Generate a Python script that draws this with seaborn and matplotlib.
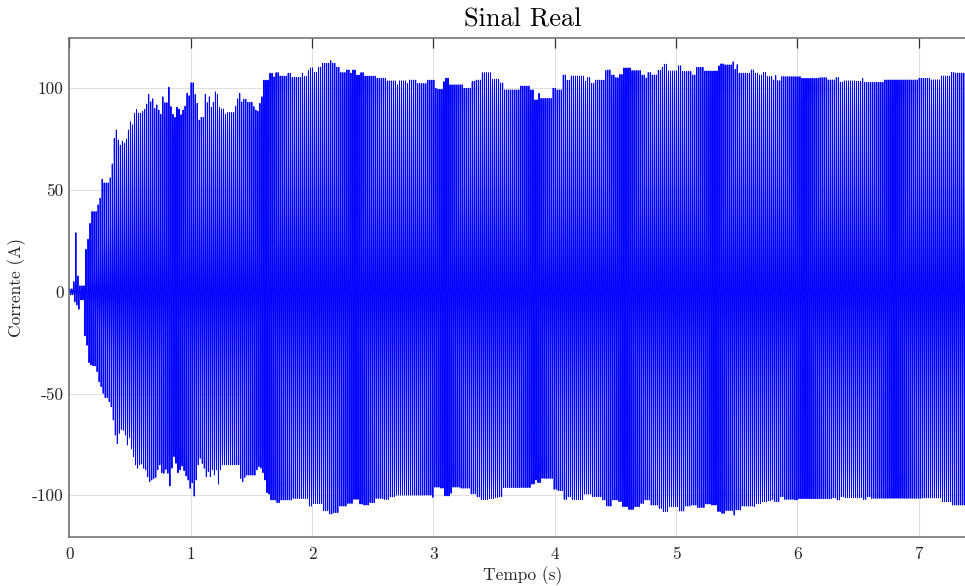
import numpy as np
import pandas as pd
import matplotlib
matplotlib.use("Agg")
import matplotlib.pyplot as plt
import seaborn as sns

# Positive-peak envelope of the measured current: (time in s, peak in A)
hi_t = [0.0, 0.03, 0.048, 0.062, 0.08, 0.125, 0.142, 0.158, 0.175, 0.225, 0.24, 0.258,
        0.275, 0.33, 0.345, 0.362, 0.38, 0.395, 0.412, 0.43, 0.447, 0.462, 0.478, 0.495,
        0.512, 0.528, 0.545, 0.562, 0.595, 0.612, 0.628, 0.645, 0.662, 0.678, 0.695,
        0.712, 0.728, 0.745, 0.762, 0.778, 0.81, 0.826, 0.842, 0.858, 0.875, 0.892,
        0.908, 0.925, 0.942, 0.958, 0.975, 0.99, 1.025, 1.04, 1.057, 1.073, 1.106,
        1.123, 1.14, 1.156, 1.173, 1.19, 1.206, 1.223, 1.24, 1.272, 1.288, 1.37, 1.387,
        1.403, 1.42, 1.436, 1.47, 1.52, 1.536, 1.552, 1.569, 1.585, 1.602, 1.648, 1.676,
        1.703, 1.73, 1.8, 1.828, 1.91, 1.937, 1.965, 1.98, 2.005, 2.046, 2.074, 2.142,
        2.17, 2.198, 2.225, 2.28, 2.308, 2.335, 2.362, 2.39, 2.435, 2.528, 2.61, 2.692,
        2.72, 2.775, 2.802, 2.87, 2.953, 3.008, 3.036, 3.077, 3.104, 3.132, 3.24, 3.31,
        3.35, 3.392, 3.475, 3.544, 3.585, 3.708, 3.795, 3.832, 3.86, 3.887, 3.983, 4.01,
        4.065, 4.093, 4.134, 4.245, 4.258, 4.3, 4.326, 4.41, 4.436, 4.465, 4.49, 4.532,
        4.56, 4.63, 4.71, 4.74, 4.766, 4.794, 4.85, 4.876, 4.903, 4.93, 5.014, 5.04,
        5.137, 5.165, 5.233, 5.343, 5.37, 5.398, 5.467, 5.48, 5.494, 5.508, 5.618, 5.645,
        5.673, 5.714, 5.741, 5.796, 5.81, 5.837, 5.865, 6.03, 6.18, 6.25, 6.318, 6.346,
        6.373, 6.483, 6.524, 6.552, 6.717, 6.99, 7.1, 7.184, 7.266, 7.295]
hi_v = [1.5, 5, 29, 7.8, 3, 20.9, 25.8, 33.6, 39.4, 42.7, 46, 55.3,
        53.5, 56, 62.8, 75.3, 79.5, 74.5, 72, 74, 73, 75, 79.5, 83.5,
        82, 87.7, 89.6, 87.7, 88.5, 89.6, 92.2, 97, 93.3, 94.8, 90,
        91.8, 89.3, 87.2, 95.8, 92.9, 100.5, 91, 87.2, 85.7, 90.7, 89.8,
        87, 89.3, 91.2, 97.5, 96.3, 102.7, 96.9, 92.6, 84.4, 85.7, 97,
        92.9, 95.8, 90.5, 93.2, 98.2, 97, 90.5, 89.8, 87.2, 88, 91.2, 94.8,
        97.5, 93.3, 94.6, 93.1, 91, 89.3, 88.7, 92.6, 95.8, 104, 107.4, 105.6,
        107.7, 106, 107.4, 105.3, 107.4, 105.8, 108.7, 110, 107.7, 110.3, 112.3, 113.6,
        112.3, 110.3, 107.7, 109, 107.4, 109, 106.5, 107.7, 106, 104.9, 103.6, 101.7,
        103.6, 102.3, 104, 102.3, 104, 100, 99.5, 103.3, 105, 101.7, 100, 103.3,
        104, 107.6, 104.4, 102.6, 99.2, 101.1, 99.2, 94.3, 97.5, 95, 100, 99.2,
        106.5, 104, 106, 103.3, 105.2, 102.4, 104, 108.7, 109, 106.5, 105.2, 106.8,
        110, 108.7, 106.5, 105, 107.7, 106.5, 108.7, 110.3, 111.8, 108.5, 111, 108.2,
        106.5, 110.3, 108.5, 111, 112, 111.5, 113, 109.3, 111.6, 107.4, 109, 107.4,
        106.5, 107.7, 105.7, 104, 106.2, 103.7, 105.7, 104.9, 105.2, 104.1, 105.2, 103,
        103.6, 103.3, 104.9, 102.9, 104.1, 104.9, 104.1, 106, 107.7, 107.4]

# Negative-peak envelope of the measured current: (time in s, trough in A)
lo_t = [0.0, 0.032, 0.05, 0.065, 0.082, 0.126, 0.142, 0.16, 0.175, 0.192, 0.225, 0.242,
        0.258, 0.275, 0.295, 0.325, 0.343, 0.358, 0.374, 0.39, 0.407, 0.423, 0.44, 0.456,
        0.473, 0.49, 0.506, 0.522, 0.538, 0.555, 0.572, 0.588, 0.605, 0.62, 0.638, 0.654,
        0.67, 0.687, 0.703, 0.72, 0.736, 0.753, 0.77, 0.786, 0.802, 0.825, 0.84, 0.857,
        0.874, 0.89, 0.907, 0.923, 0.94, 0.956, 0.973, 0.99, 1.006, 1.022, 1.038, 1.055,
        1.072, 1.088, 1.105, 1.12, 1.137, 1.154, 1.17, 1.187, 1.203, 1.22, 1.236, 1.252,
        1.4, 1.418, 1.435, 1.45, 1.532, 1.55, 1.566, 1.582, 1.598, 1.615, 1.632, 1.648,
        1.7, 1.732, 1.84, 1.978, 2.005, 2.088, 2.142, 2.17, 2.225, 2.28, 2.335, 2.39,
        2.418, 2.472, 2.528, 2.582, 2.637, 2.692, 2.98, 3.008, 3.05, 3.09, 3.132, 3.16,
        3.215, 3.31, 3.35, 3.392, 3.46, 3.503, 3.544, 3.572, 3.805, 3.832, 3.86, 3.887,
        3.995, 4.025, 4.065, 4.105, 4.134, 4.245, 4.3, 4.395, 4.425, 4.465, 4.52, 4.546,
        4.6, 4.656, 4.71, 4.74, 4.78, 4.85, 4.89, 4.93, 5.027, 5.07, 5.125, 5.178,
        5.233, 5.288, 5.343, 5.37, 5.412, 5.467, 5.494, 5.535, 5.63, 5.66, 5.7, 5.755,
        5.782, 5.81, 5.851, 5.892, 5.975, 6.002, 6.295, 6.325, 6.346, 6.385, 6.538, 6.565,
        6.607, 7.02, 7.184, 7.266]
lo_v = [-1.5, -4.9, -6.5, -8.6, -4, -21.7, -26.3, -34.8, -35.9, -36.4, -39.2, -44.2,
        -46.6, -49.9, -52, -54, -56.5, -63, -70.4, -74.6, -69.5, -67.6, -68, -70.4,
        -75.3, -71.5, -77, -81, -85, -86.7, -85, -84.6, -86.7, -87.5, -90.9, -93.3,
        -92.5, -91.7, -91.2, -87.5, -85, -88.9, -89.2, -87.3, -89.2, -95.4, -86.7, -81,
        -84.3, -88.9, -87.5, -85.6, -87.9, -90.5, -92.5, -96.6, -93.8, -100.4, -92.5, -85,
        -81.8, -84.3, -86.7, -90.9, -88.4, -90.9, -87.5, -90, -87.5, -94.5, -87.5, -85,
        -91.7, -93.3, -91.2, -90.1, -87.5, -85.9, -86.7, -88.9, -92.5, -98.7, -99.4, -102.3,
        -103.6, -102.3, -101.5, -105.3, -104, -107.5, -109.2, -108.5, -105.3, -104, -102, -104.3,
        -104.8, -103.6, -101.5, -102, -100.7, -99.9, -101, -96, -96.5, -100.3, -99, -96,
        -96.5, -99.3, -100.7, -102, -101.5, -101, -100.7, -96.2, -94.5, -92.5, -93.8, -91.7,
        -97, -97.7, -102, -100.7, -102, -99.4, -100.7, -102.3, -105.3, -102.3, -103.1, -105.6,
        -107, -105.6, -104, -102.3, -104.8, -106.4, -108, -105.6, -107.7, -105.3, -104.8, -106,
        -104.3, -104.8, -108, -108.9, -107.5, -109.7, -107.2, -105.3, -105.6, -104, -103.1, -102.6,
        -102, -103.1, -100.7, -102, -102.3, -101.7, -101.3, -102.3, -100.7, -101.2, -102, -100.7,
        -101.5, -101.3, -103.1, -104.8]

x_ticks = [0, 1, 2, 3, 4, 5, 6, 7]
y_ticks = [-100, -50, 0, 50, 100]
y_tick_labels = ["-100", "-50", "0", "50", "100"]

line_freq = 60.0      # Hz
t_end = 7.5           # s
fs = line_freq * 48   # samples per second

# Build the waveform cycle by cycle: each half-cycle takes the envelope
# value held at its peak instant.
t = np.arange(0.0, t_end, 1.0 / fs)
cycle = np.floor(t * line_freq)
hi_idx = np.searchsorted(hi_t, (cycle + 0.25) / line_freq, side="right") - 1
lo_idx = np.searchsorted(lo_t, (cycle + 0.75) / line_freq, side="right") - 1
amp_hi = np.asarray(hi_v)[hi_idx]
amp_lo = -np.asarray(lo_v)[lo_idx]
carrier = np.sin(2 * np.pi * line_freq * t)
current = np.where(carrier >= 0, carrier * amp_hi, carrier * amp_lo)
df = pd.DataFrame({"Tempo": t, "Corrente": current})

sns.set_theme(style="white")
plt.rcParams.update({
    "font.family": ["cmr10", "DejaVu Serif"],
    "mathtext.fontset": "cm",
    "axes.unicode_minus": False,
    "axes.formatter.use_mathtext": True,
})

fig = plt.figure(figsize=(9.65, 5.86), dpi=100)
ax = fig.add_axes([69.3 / 965, 1 - 537 / 586, (977 - 69.3) / 965, 499 / 586])

sns.lineplot(data=df, x="Tempo", y="Corrente", ax=ax, color="#0000ff",
             linewidth=0.7, estimator=None, sort=False, legend=False)

ax.set_xlim(0, 7.48)
ax.set_ylim(-120.5, 124.7)
ax.set_xticks(x_ticks)
ax.set_xticklabels([str(v) for v in x_ticks])
ax.set_yticks(y_ticks)
ax.set_yticklabels(y_tick_labels)

ax.set_axisbelow(True)
ax.grid(True, color="#e0e0e0", linewidth=0.8)

for side in ["left", "bottom", "top", "right"]:
    ax.spines[side].set_visible(True)
    ax.spines[side].set_color("#6a6a6a")
    ax.spines[side].set_linewidth(1.1)

ax.tick_params(axis="both", direction="in", length=7, width=0.9, color="#303030",
               labelsize=12.5, labelcolor="#262626", top=True, right=True)
ax.tick_params(axis="x", pad=7)
ax.tick_params(axis="y", pad=4)

ax.set_title("Sinal Real", fontsize=19, color="#000000", pad=8)
ax.set_xlabel("Tempo (s)", fontsize=12.5, color="#262626", labelpad=3)
ax.set_ylabel("Corrente (A)", fontsize=12.5, color="#262626", labelpad=4)

fig.savefig("out.png", dpi=100)
